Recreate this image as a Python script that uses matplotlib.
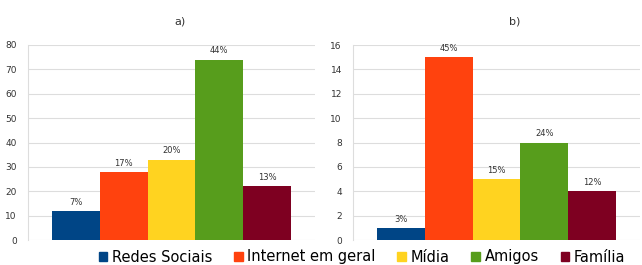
import matplotlib.pyplot as plt
from matplotlib.patches import Patch

# categorias e valores
categorias = ['Redes Sociais', 'Internet em geral', 'Mídia', 'Amigos', 'Família']
cores = ['#004586', '#ff420e', '#ffd320', '#579d1c', '#7e0021']

valores_a = [12, 28, 33, 74, 22]
rotulos_a = ['7%', '17%', '20%', '44%', '13%']

valores_b = [1, 15, 5, 8, 4]
rotulos_b = ['3%', '45%', '15%', '24%', '12%']

fig = plt.figure(figsize=(6.42, 2.65), dpi=100)
ax1 = fig.add_axes([28/642, 1 - 240/265, 287/642, 195/265])
ax2 = fig.add_axes([353/642, 1 - 240/265, 287/642, 195/265])


def painel(ax, valores, rotulos, ymax, passo, titulo, xt):
    x = list(range(len(valores)))
    ax.bar(x, valores, width=1.0, color=cores, zorder=3)
    for xi, v, r in zip(x, valores, rotulos):
        ax.annotate(r, (xi, v), xytext=(0, 3), textcoords='offset points',
                    ha='center', va='bottom', fontsize=6, color='#333333')
    ax.set_xlim(-1.0, 5.0)
    ax.set_ylim(0, ymax)
    ax.set_yticks(range(0, ymax + 1, passo))
    ax.set_xticks([])
    ax.grid(axis='y', color='#dddddd', linewidth=0.8, zorder=0)
    for s in ['top', 'right', 'bottom']:
        ax.spines[s].set_visible(False)
    ax.spines['left'].set_color('#dddddd')
    ax.tick_params(axis='y', labelsize=6.5, colors='#333333', length=0, pad=8)
    fig.text(xt, 1 - 22/265, titulo, ha='center', va='center', fontsize=8, color='#333333')


painel(ax1, valores_a, rotulos_a, 80, 10, 'a)', 180/642)
painel(ax2, valores_b, rotulos_b, 16, 2, 'b)', 515/642)

handles = [Patch(color=c, label=l) for c, l in zip(cores, categorias)]
fig.legend(handles=handles, loc='center', bbox_to_anchor=(362/642, 1 - 257/265),
           ncol=5, frameon=False, fontsize=10.5, handlelength=0.6, handleheight=0.6,
           handletextpad=0.3, columnspacing=1.5, borderpad=0)

plt.savefig('out.png', dpi=100)
